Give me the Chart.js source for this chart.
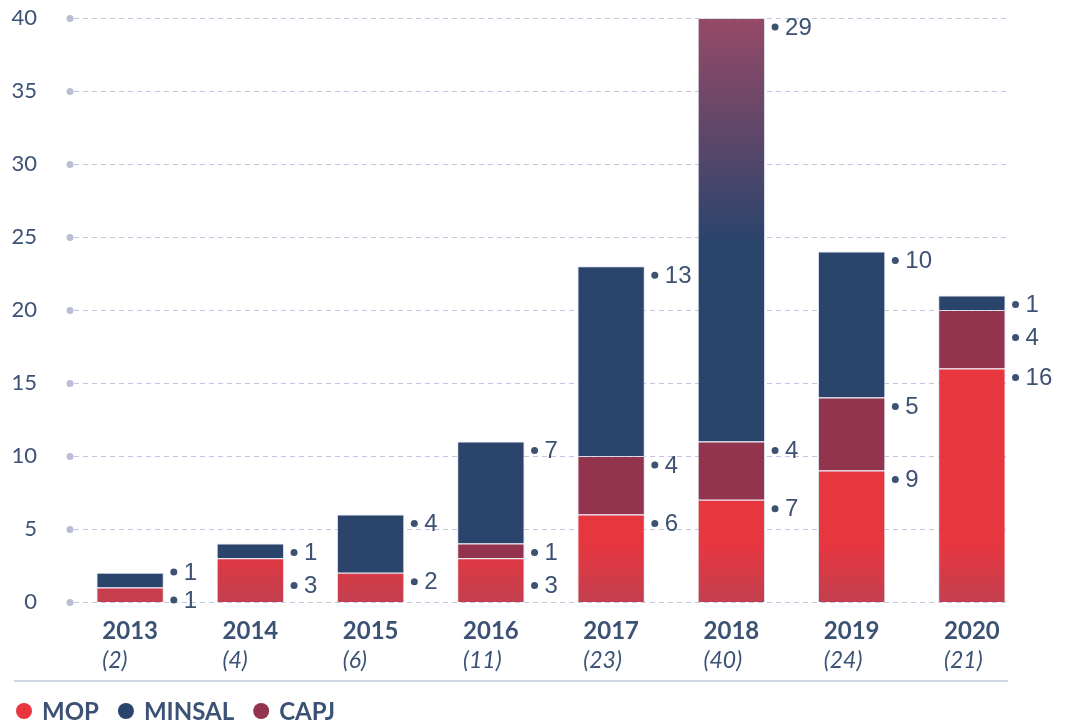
<!DOCTYPE html>
<html><head><meta charset="utf-8">
<script src="https://cdn.jsdelivr.net/npm/chart.js@4.4.1/dist/chart.umd.min.js"></script>
<style>html,body{margin:0;padding:0;background:#fff;}#wrap{width:1065px;height:723px;position:relative;}</style>
</head><body><div id="wrap"><canvas id="c" width="1065" height="723"></canvas></div>
<script>
const years = ['2013','2014','2015','2016','2017','2018','2019','2020'];
const mop = [1,3,2,3,6,7,9,16];
const capj = [0,0,0,1,4,4,5,4];
const minsal = [1,1,4,7,13,29,10,1];
const totals = [2,4,6,11,23,40,24,21];
const yTicks = [0,5,10,15,20,25,30,35,40];
const legendItems = ['MOP','MINSAL','CAPJ'];

const C_RED='#e8363f', C_RED_DARK='#c33f4f', C_NAVY='#2b446c', C_MAROON='#93344f', C_TOP='#964a67';
const TXT='#3b5275';

function redFill(ctx){
  const ca=ctx.chart.chartArea; if(!ca) return C_RED;
  const g=ctx.chart.ctx.createLinearGradient(0,ca.bottom-60,0,ca.bottom);
  g.addColorStop(0,C_RED); g.addColorStop(1,C_RED_DARK); return g;
}
function navyFill(ctx){
  const ca=ctx.chart.chartArea; if(!ca) return C_NAVY;
  const mx=Math.max(...totals);
  if(totals[ctx.dataIndex]!==mx) return C_NAVY;
  const h=ca.bottom-ca.top;
  const g=ctx.chart.ctx.createLinearGradient(0,ca.top,0,ca.top+0.38*h);
  g.addColorStop(0,C_TOP); g.addColorStop(1,C_NAVY); return g;
}

const deco={
  id:'deco',
  beforeDatasetsDraw(chart){
    const {ctx,chartArea:ca,scales:{y}}=chart;
    ctx.save();
    yTicks.forEach(t=>{
      const py=Math.round(y.getPixelForValue(t))+0.5;
      ctx.strokeStyle='#c3c6de'; ctx.lineWidth=1; ctx.setLineDash([5,4]);
      ctx.beginPath(); ctx.moveTo(ca.left+4,py); ctx.lineTo(1006,py); ctx.stroke();
      ctx.setLineDash([]);
      ctx.fillStyle='#b9bdd5'; ctx.beginPath(); ctx.arc(ca.left,py,3.5,0,Math.PI*2); ctx.fill();
      ctx.fillStyle=TXT; ctx.font='22px Lato'; ctx.textAlign='right'; ctx.textBaseline='middle';
      ctx.fillText(String(t),37,py-1);
    });
    ctx.restore();
  },
  afterDatasetsDraw(chart){
    const {ctx,chartArea:ca,scales:{x}}=chart;
    ctx.save();
    const order=[2,1,0];
    years.forEach((yr,i)=>{
      const items=[];
      order.forEach(di=>{
        const v=chart.data.datasets[di].data[i];
        if(!v) return;
        const el=chart.getDatasetMeta(di).data[i];
        items.push({v,top:el.y,right:el.x+el.width/2});
      });
      let prev=-1e9; const ys=[];
      items.forEach(it=>{ let py=Math.max(it.top+9,prev+33); ys.push(py); prev=py; });
      const maxY=ca.bottom-2;
      for(let k=ys.length-1;k>=0;k--){
        const lim = k===ys.length-1 ? maxY : ys[k+1]-28;
        if(ys[k]>lim) ys[k]=lim;
      }
      items.forEach((it,k)=>{
        ctx.fillStyle='#3d5273';
        ctx.beginPath(); ctx.arc(it.right+10,ys[k],3.5,0,Math.PI*2); ctx.fill();
        ctx.font='24px "Liberation Sans", Arial'; ctx.textAlign='left'; ctx.textBaseline='middle';
        ctx.fillText(String(it.v),it.right+20,ys[k]+1);
      });
      const cx=x.getPixelForValue(i);
      ctx.fillStyle=TXT; ctx.textBaseline='middle';
      ctx.font='bold 24px Lato'; ctx.textAlign='center';
      const w=ctx.measureText(yr).width;
      ctx.fillText(yr,cx,631);
      ctx.font='italic 23px Lato'; ctx.textAlign='left';
      ctx.fillText('('+totals[i]+')',cx-w/2,661);
    });
    ctx.strokeStyle='#c2c9dc'; ctx.lineWidth=1.5;
    ctx.beginPath(); ctx.moveTo(14,681); ctx.lineTo(1008,681); ctx.stroke();
    const cols={MOP:C_RED,MINSAL:C_NAVY,CAPJ:C_MAROON};
    let lx=24;
    ctx.font='bold 24px Lato'; ctx.textBaseline='middle'; ctx.textAlign='left';
    legendItems.forEach(name=>{
      ctx.fillStyle=cols[name]; ctx.beginPath(); ctx.arc(lx,711,8,0,Math.PI*2); ctx.fill();
      ctx.fillStyle=TXT; ctx.fillText(name,lx+18,712);
      lx+=18+ctx.measureText(name).width+27;
    });
    ctx.restore();
  }
};

new Chart(document.getElementById('c'),{
  type:'bar',
  data:{labels:years,datasets:[
    {label:'MOP',data:mop,backgroundColor:redFill},
    {label:'CAPJ',data:capj,backgroundColor:C_MAROON},
    {label:'MINSAL',data:minsal,backgroundColor:navyFill}
  ]},
  options:{
    responsive:false,animation:false,
    layout:{padding:{left:70,right:33,top:18,bottom:121}},
    datasets:{bar:{categoryPercentage:1,barPercentage:0.56,borderWidth:1,borderColor:'rgba(215,218,235,0.8)'}},
    scales:{
      x:{stacked:true,display:false,offset:true},
      y:{stacked:true,display:false,min:0,max:40}
    },
    plugins:{legend:{display:false},tooltip:{enabled:false}}
  },
  plugins:[deco]
});
</script></body></html>
